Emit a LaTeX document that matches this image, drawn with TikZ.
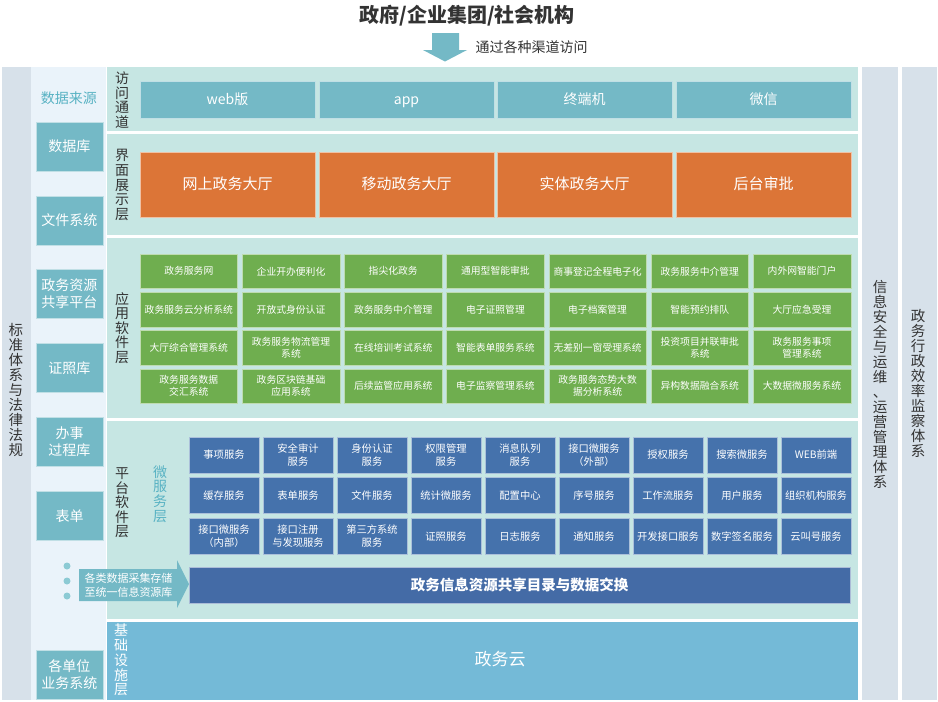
\documentclass[tikz,border=0pt]{standalone}
\usepackage{fontspec}
\setmainfont{Noto Sans CJK SC}
\definecolor{laybg}{HTML}{C6E6E3}
\definecolor{accbox}{HTML}{74B9C6}
\definecolor{orangebox}{HTML}{DC7537}
\definecolor{greenbox}{HTML}{6FAE4F}
\definecolor{bluebox}{HTML}{4572AC}
\definecolor{barblue}{HTML}{446BA6}
\definecolor{infrabg}{HTML}{74BAD7}
\definecolor{greycol}{HTML}{D7E1EA}
\definecolor{dsbg}{HTML}{EAF3FA}
\definecolor{darktext}{HTML}{333333}
\definecolor{tealtext}{HTML}{58B2C3}
\definecolor{dotcol}{HTML}{8CCAD4}
\tikzset{
  accb/.style={fill=accbox, draw=white!55!accbox, line width=0.6pt, text=white,
    font=\fontsize{14}{16}\selectfont, text height=1.0em, text depth=0.04em,
    minimum width=175pt, minimum height=37pt, inner sep=0pt},
  ifb/.style={fill=orangebox, draw=white!55!orangebox, line width=0.6pt, text=white,
    font=\fontsize{15}{17}\selectfont, text height=1.0em, text depth=0.04em,
    minimum width=175pt, minimum height=65pt, inner sep=0pt},
  appb/.style={fill=greenbox, draw=white!55!greenbox, line width=0.6pt, text=white, align=center,
    font=\fontsize{9.8}{12}\selectfont, minimum width=97.6pt, minimum height=34.5pt, inner sep=0pt},
  svcb/.style={fill=bluebox, draw=white!55!bluebox, line width=0.6pt, text=white, align=center,
    font=\fontsize{10.3}{13}\selectfont, minimum width=70pt, minimum height=36pt, inner sep=0pt},
  dsb/.style={fill=accbox, draw=white!55!accbox, line width=0.6pt, text=white, align=center,
    font=\fontsize{14}{17}\selectfont, minimum width=67pt, minimum height=49pt, inner sep=0pt},
  vlab/.style={text=darktext, align=center, inner sep=0pt, font=\fontsize{14}{14.6}\selectfont},
  vlabw/.style={text=white, align=center, inner sep=0pt, font=\fontsize{14}{14.8}\selectfont},
  rlab/.style={text=darktext, align=center, inner sep=0pt, font=\fontsize{14.5}{15}\selectfont},
}
\newcommand\appbox[3]{\node[appb] (a#1#2) at ({188.8+102.2*#1},{271.25+38.3*#2}) {#3};}
\newcommand\svcbox[3]{\node[svcb] (s#1#2) at ({224+74*#1},{455+40.6*#2}) {#3};}
\begin{document}
\begin{tikzpicture}[x=1pt,y=-1pt]
\useasboundingbox (0,0) rectangle (938,702);
\fill[white] (0,0) rectangle (938,702);

% title and entry arrow
\node[text=darktext, font=\fontsize{20}{22}\selectfont\bfseries] (title) at (467,16) {政府/企业集团/社会机构};
\fill[accbox] (432,33) -- (459,33) -- (459,50) -- (467,50) -- (445,61.5) -- (423,50) -- (432,50) -- cycle;
\node[text=darktext, font=\fontsize{14}{16}\selectfont, anchor=west] (via) at (472,47.5) {通过各种渠道访问};

% side columns
\fill[greycol] (2,67) rectangle (31,700);
\fill[dsbg] (31,67) rectangle (106,700);
\fill[greycol] (862,67) rectangle (898,700);
\fill[greycol] (902,67) rectangle (937,700);
\node[rlab] (std) at (16,390) {标\\准\\体\\系\\与\\法\\律\\法\\规};
\node[rlab] (sec) at (880,384) {信\\息\\安\\全\\与\\运\\维\\、\\运\\营\\管\\理\\体\\系};
\node[rlab] (eff) at (918,383) {政\\务\\行\\政\\效\\率\\监\\察\\体\\系};

% layer backgrounds
\fill[laybg] (107,67) rectangle (858,131);
\fill[laybg] (107,134) rectangle (858,235);
\fill[laybg] (107,238) rectangle (858,418);
\fill[laybg] (107,421) rectangle (858,619);
\fill[infrabg] (107,621.5) rectangle (858,700);

% layer labels
\node[vlab] (lacc) at (122,100) {访\\问\\通\\道};
\node[vlab] (lif) at (122,185) {界\\面\\展\\示\\层};
\node[vlab] (lapp) at (122,328) {应\\用\\软\\件\\层};
\node[vlab] (lplat) at (122,503) {平\\台\\软\\件\\层};
\node[vlab, text=tealtext] (lms) at (160,494) {微\\服\\务\\层};
\node[vlabw] (linf) at (121,660) {基\\础\\设\\施\\层};

% data sources
\node[text=tealtext, font=\fontsize{14}{16}\selectfont] (dstitle) at (69,98) {数据来源};
\node[dsb] (ds1) at (69.5,146.5) {数据库};
\node[dsb] (ds2) at (69.5,220.5) {文件系统};
\node[dsb] (ds3) at (69.5,294) {政务资源\\共享平台};
\node[dsb] (ds4) at (69.5,368) {证照库};
\node[dsb] (ds5) at (69.5,442) {办事\\过程库};
\node[dsb] (ds6) at (69.5,516) {表单};
\node[dsb] (ds7) at (69.5,675) {各单位\\业务系统};
\foreach \yy [count=\k] in {566,581,596}
  \fill[dotcol] (67,\yy) circle (3.5pt);

% access channels
\node[accb] (web) at (227.5,99.5) {web版};
\node[accb] (appc) at (406.5,99.5) {app};
\node[accb] (term) at (584.5,99.5) {终端机};
\node[accb] (wx) at (763.5,99.5) {微信};

% interface layer
\node[ifb] (if1) at (227.5,184.5) {网上政务大厅};
\node[ifb] (if2) at (406.5,184.5) {移动政务大厅};
\node[ifb] (if3) at (584.5,184.5) {实体政务大厅};
\node[ifb] (if4) at (763.5,184.5) {后台审批};

% application layer
\appbox{0}{0}{政务服务网}
\appbox{1}{0}{企业开办便利化}
\appbox{2}{0}{指尖化政务}
\appbox{3}{0}{通用型智能审批}
\appbox{4}{0}{商事登记全程电子化}
\appbox{5}{0}{政务服务中介管理}
\appbox{6}{0}{内外网智能门户}
\appbox{0}{1}{政务服务云分析系统}
\appbox{1}{1}{开放式身份认证}
\appbox{2}{1}{政务服务中介管理}
\appbox{3}{1}{电子证照管理}
\appbox{4}{1}{电子档案管理}
\appbox{5}{1}{智能预约排队}
\appbox{6}{1}{大厅应急受理}
\appbox{0}{2}{大厅综合管理系统}
\appbox{1}{2}{政务服务物流管理\\系统}
\appbox{2}{2}{在线培训考试系统}
\appbox{3}{2}{智能表单服务系统}
\appbox{4}{2}{无差别一窗受理系统}
\appbox{5}{2}{投资项目并联审批\\系统}
\appbox{6}{2}{政务服务事项\\管理系统}
\appbox{0}{3}{政务服务数据\\交汇系统}
\appbox{1}{3}{政务区块链基础\\应用系统}
\appbox{2}{3}{后续监管应用系统}
\appbox{3}{3}{电子监察管理系统}
\appbox{4}{3}{政务服务态势大数\\据分析系统}
\appbox{5}{3}{异构数据融合系统}
\appbox{6}{3}{大数据微服务系统}

% platform micro-services
\svcbox{0}{0}{事项服务}
\svcbox{1}{0}{安全审计\\服务}
\svcbox{2}{0}{身份认证\\服务}
\svcbox{3}{0}{权限管理\\服务}
\svcbox{4}{0}{消息队列\\服务}
\svcbox{5}{0}{接口微服务\\（外部）}
\svcbox{6}{0}{授权服务}
\svcbox{7}{0}{搜索微服务}
\svcbox{8}{0}{WEB前端}
\svcbox{0}{1}{缓存服务}
\svcbox{1}{1}{表单服务}
\svcbox{2}{1}{文件服务}
\svcbox{3}{1}{统计微服务}
\svcbox{4}{1}{配置中心}
\svcbox{5}{1}{序号服务}
\svcbox{6}{1}{工作流服务}
\svcbox{7}{1}{用户服务}
\svcbox{8}{1}{组织机构服务}
\svcbox{0}{2}{接口微服务\\（内部）}
\svcbox{1}{2}{接口注册\\与发现服务}
\svcbox{2}{2}{第三方系统\\服务}
\svcbox{3}{2}{证照服务}
\svcbox{4}{2}{日志服务}
\svcbox{5}{2}{通知服务}
\svcbox{6}{2}{开发接口服务}
\svcbox{7}{2}{数字签名服务}
\svcbox{8}{2}{云叫号服务}

% exchange bar and collection arrow
\node[fill=barblue, draw=white!55!barblue, line width=0.6pt, text=white, minimum width=661pt, minimum height=36pt, inner sep=0pt,
  font=\fontsize{14.5}{16}\selectfont\bfseries] (bar) at (519.5,585) {政务信息资源共享目录与数据交换};
\fill[accbox] (79,569) -- (177,569) -- (177,560) -- (189,584) -- (177,608) -- (177,601) -- (79,601) -- cycle;
\node[text=white, align=center, inner sep=0pt, font=\fontsize{11}{14}\selectfont] (collect) at (128.5,585) {各类数据采集存储\\至统一信息资源库};

% infrastructure
\node[text=white, font=\fontsize{17}{19}\selectfont] (cloud) at (500,659) {政务云};
\end{tikzpicture}
\end{document}
